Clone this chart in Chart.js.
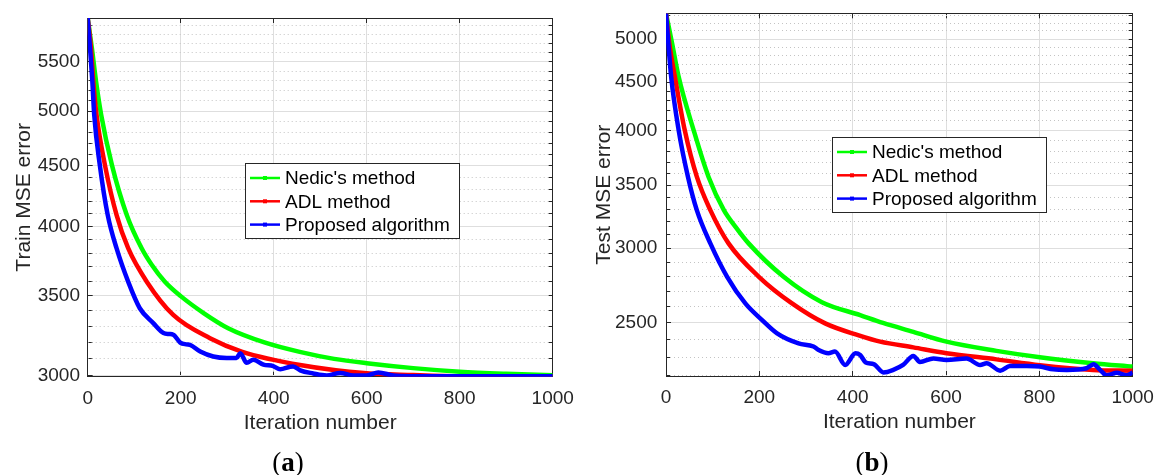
<!DOCTYPE html>
<html><head><meta charset="utf-8">
<script src="https://cdn.jsdelivr.net/npm/chart.js@4.4.1/dist/chart.umd.min.js"></script>
<style>
html,body{margin:0;padding:0;background:#fff;}
#wrap{position:relative;width:1163px;height:475px;overflow:hidden;background:#fff;}
canvas{position:absolute;top:0;}
.cap{position:absolute;width:100px;text-align:center;font-family:'Liberation Serif','Times New Roman',serif;font-size:27px;line-height:30px;color:#000;}
</style></head><body>
<div id="wrap">
<canvas id="cA" width="575" height="475" style="left:0;width:575px;height:475px"></canvas>
<canvas id="cB" width="588" height="475" style="left:575px;width:588px;height:475px"></canvas>
<div class="cap" style="left:238px;top:447px">(<b>a</b>)</div>
<div class="cap" style="left:822px;top:447px">(<b>b</b>)</div>
</div>
<script>
// ---------- data ----------
const seriesNames = ["Nedic's method", "ADL method", "Proposed algorithm"];
const seriesColors = ['#00ff00', '#ff0000', '#0000ff'];
const xTicks = [0, 200, 400, 600, 800, 1000];

// (a) train MSE
const trainIterNedic = [0,9,18,29,52,84,116,138,166,200,250,302,380,456,530,600,700,800,900,1000];
const trainNedic     = [5984,5646,5292,4963,4506,4091,3836,3714,3596,3497,3383,3287,3198,3140,3098,3072,3043,3022,3010,3002];
const trainIterADL   = [0,7,12,19,37,62,87,127,184,263,331,460,600,700,800,900,1000];
const trainADL       = [5984,5646,5292,4963,4506,4091,3836,3596,3372,3224,3142,3060,3013,3003,2996,2995,2994];
const trainIterProp  = [0,5,10,14,26,43,62,87,112,141,163,175,184,199,212,220,242,270,299,320,328,342,356,378,399,414,435,442,457,485,514,543,571,600,625,657,700,800,900,1000];
const trainProp      = [5984,5646,5292,4963,4506,4091,3836,3596,3416,3319,3256,3250,3246,3197,3186,3183,3142,3112,3103,3103,3132,3074,3093,3064,3055,3036,3051,3053,3030,3012,3000,3015,3000,3000,3018,3000,2996,2995,2995,2995];
const trainMajorTicks = [3000,3500,4000,4500,5000,5500];
const trainMinorTicks = [3000,3100,3200,3300,3400,3500,3600,3700,3800,3900,4000,4100,4200,4300,4400,4500,4600,4700,4800,4900,5000,5100,5200,5300,5400,5500,5600,5700,5800,5900];

// (b) test MSE
const testIterNedic = [0,13,27,59,91,124,149,177,252,334,416,465,530,601,708,801,915,1000];
const testNedic     = [5325,4951,4563,4006,3573,3293,3161,3036,2798,2630,2548,2500,2446,2388,2335,2299,2266,2247];
const testIterADL   = [0,7,19,40,66,95,134,199,270,341,413,459,530,601,708,801,915,1000];
const testADL       = [5325,4951,4563,4006,3573,3293,3036,2798,2622,2497,2425,2388,2355,2322,2287,2255,2229,2225];
const testIterProp  = [0,5,11,27,47,66,95,131,170,206,238,284,316,327,348,362,384,406,416,428,445,466,487,508,530,544,573,601,644,673,687,716,737,773,801,830,859,901,916,930,944,966,987,1000];
const testProp      = [5325,4951,4563,4006,3573,3293,3036,2798,2622,2517,2437,2378,2360,2340,2322,2331,2256,2322,2312,2270,2261,2215,2229,2256,2306,2273,2292,2284,2292,2256,2266,2225,2250,2250,2247,2232,2229,2238,2260,2229,2200,2213,2200,2215];
const testMajorTicks = [2500,3000,3500,4000,4500,5000];
const testMinorTicks = [2200,2300,2400,2500,2600,2700,2800,2900,3000,3100,3200,3300,3400,3500,3600,3700,3800,3900,4000,4100,4200,4300,4400,4500,4600,4700,4800,4900,5000,5100,5200,5300];

// ---------- drawing ----------
const FONT = "'Liberation Sans', Arial, Helvetica, sans-serif";
const AXIS = '#262626';

const boxLegend = {
  id: 'boxLegend',
  afterDatasetsDraw(chart, args, o) {
    const ctx = chart.ctx, a = chart.chartArea;
    const left = Math.round(a.left + o.dx), top = Math.round(a.top + o.dy);
    const ds = chart.data.datasets;
    ctx.save();
    ctx.font = o.fontSize + 'px ' + FONT;
    let tw = 0;
    ds.forEach(d => { tw = Math.max(tw, ctx.measureText(d.label).width); });
    const w = Math.round(o.textX + tw + o.padRight), h = Math.round(o.rowH * ds.length + o.padV);
    ctx.fillStyle = '#fff';
    ctx.fillRect(left, top, w, h);
    ctx.strokeStyle = AXIS; ctx.lineWidth = 1;
    ctx.strokeRect(left + 0.5, top + 0.5, w, h);
    ds.forEach((d, i) => {
      const y = top + o.firstRow + i * o.rowH;
      ctx.strokeStyle = d.borderColor; ctx.lineWidth = 2.5;
      ctx.beginPath(); ctx.moveTo(left + o.lineX0, y); ctx.lineTo(left + o.lineX1, y); ctx.stroke();
      ctx.fillStyle = d.borderColor;
      const mx = left + (o.lineX0 + o.lineX1) / 2;
      ctx.fillRect(mx - 2, y - 2, 4, 4);
      ctx.fillStyle = '#000'; ctx.textBaseline = 'middle'; ctx.textAlign = 'left';
      ctx.fillText(d.label, left + o.textX, y + 1);
    });
    ctx.restore();
  }
};

function mkSet(i, iters, vals, order) {
  return {
    label: seriesNames[i], borderColor: seriesColors[i], backgroundColor: seriesColors[i],
    data: iters.map((x, k) => ({ x: x, y: vals[k] })),
    borderWidth: 4.5, pointRadius: 0, pointHoverRadius: 0, fill: false,
    cubicInterpolationMode: 'monotone', order: order, xAxisID: 'x', yAxisID: 'y'
  };
}

function noPad(s) { s.paddingLeft = 0; s.paddingRight = 0; s.paddingTop = 0; s.paddingBottom = 0; }

function makeChart(id, sets, yMin, yMax, major, minor, yTitle, g) {
  const isMajor = v => major.indexOf(v) >= 0;
  return new Chart(document.getElementById(id), {
    type: 'line',
    data: { datasets: sets },
    plugins: [boxLegend],
    options: {
      responsive: false, animation: false, events: [],
      layout: { padding: 0 },
      plugins: {
        legend: { display: false }, tooltip: { enabled: false },
        boxLegend: { dx: g.lgX, dy: g.lgY, fontSize: 19, rowH: 23.3, firstRow: 15, padV: 5,
                     lineX0: 5, lineX1: 35, textX: 40, padRight: 9 }
      },
      scales: {
        x: {
          type: 'linear', position: 'bottom', min: 0, max: 1000, bounds: 'data',
          afterBuildTicks: s => { s.ticks = xTicks.map(v => ({ value: v })); },
          afterFit: s => { s.height = g.botH; noPad(s); },
          ticks: { autoSkip: false, maxRotation: 0, padding: g.xLabPad, color: AXIS,
                   font: { family: FONT, size: 19 }, callback: v => String(v) },
          grid: { color: '#dedede', lineWidth: 1, tickColor: AXIS, tickLength: -5 },
          border: { color: AXIS, width: 1 },
          title: { display: true, text: 'Iteration number', color: AXIS,
                   font: { family: FONT, size: 21 }, padding: { top: 0, bottom: g.xTitPad } }
        },
        xTop: {
          type: 'linear', position: 'top', min: 0, max: 1000, bounds: 'data',
          afterBuildTicks: s => { s.ticks = xTicks.map(v => ({ value: v })); },
          afterFit: s => { s.height = g.topH; noPad(s); },
          ticks: { display: false },
          grid: { drawOnChartArea: false, tickColor: AXIS, tickLength: -5 },
          border: { color: AXIS, width: 1 }
        },
        y: {
          type: 'logarithmic', position: 'left', min: yMin, max: yMax, bounds: 'data',
          afterBuildTicks: s => { s.ticks = minor.map(v => ({ value: v })); },
          afterFit: s => { s.width = g.yW; noPad(s); },
          ticks: { autoSkip: false, padding: g.yLabPad, color: AXIS,
                   font: { family: FONT, size: 19 }, callback: v => isMajor(v) ? String(v) : '' },
          grid: { color: c => (c.tick && isMajor(c.tick.value)) ? '#dedede' : 'rgba(0,0,0,0)',
                  lineWidth: 1, tickColor: AXIS, tickLength: -5 },
          border: { color: AXIS, width: 1 },
          title: { display: true, text: yTitle, color: AXIS,
                   font: { family: FONT, size: 21 }, padding: { top: g.yTitPad, bottom: 0 } }
        },
        yR: {
          type: 'logarithmic', position: 'right', min: yMin, max: yMax, bounds: 'data',
          afterBuildTicks: s => { s.ticks = minor.map(v => ({ value: v })); },
          afterFit: s => { s.width = g.yRW; noPad(s); },
          ticks: { display: false, autoSkip: false },
          grid: { color: c => (c.tick && isMajor(c.tick.value)) ? 'rgba(0,0,0,0)' : '#c4c4c4',
                  lineWidth: 1, tickColor: AXIS, tickLength: -4 },
          border: { color: AXIS, width: 1, dash: [1, 3] }
        }
      }
    }
  });
}

makeChart('cA', [
  mkSet(0, trainIterNedic, trainNedic, 3),
  mkSet(1, trainIterADL, trainADL, 2),
  mkSet(2, trainIterProp, trainProp, 1)
], 2993, 5984, trainMajorTicks, trainMinorTicks, 'Train MSE error',
{ yW: 87.7, yRW: 22.3, topH: 18, botH: 98.3, yLabPad: 12.7, xLabPad: 16, xTitPad: 39, yTitPad: 11.5, lgX: 157.3, lgY: 145 });

makeChart('cB', [
  mkSet(0, testIterNedic, testNedic, 3),
  mkSet(1, testIterADL, testADL, 2),
  mkSet(2, testIterProp, testProp, 1)
], 2196, 5325, testMajorTicks, testMinorTicks, 'Test MSE error',
{ yW: 91, yRW: 30.3, topH: 13.3, botH: 99, yLabPad: 13.7, xLabPad: 15.3, xTitPad: 40.5, yTitPad: 17, lgX: 166, lgY: 123.7 });
</script>
</body></html>
